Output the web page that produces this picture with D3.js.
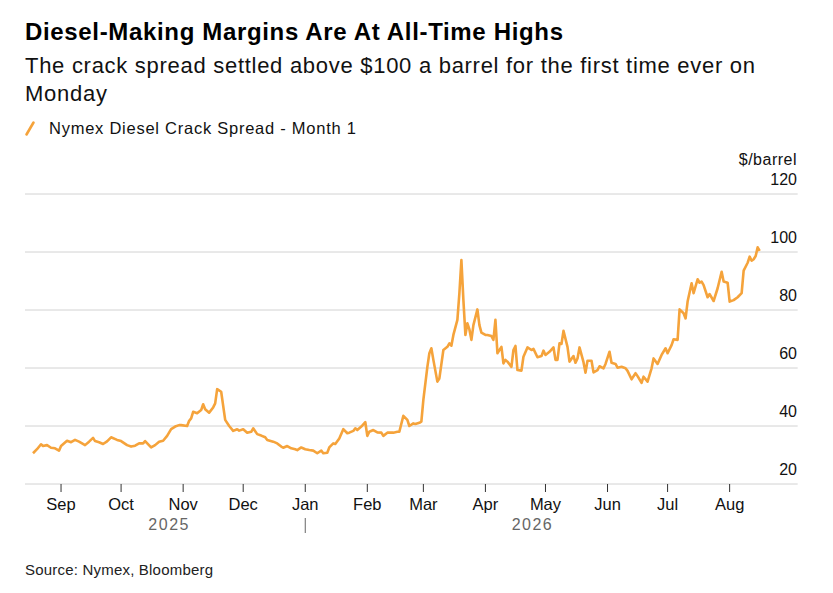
<!DOCTYPE html>
<html>
<head>
<meta charset="utf-8">
<script src="https://cdn.jsdelivr.net/npm/d3@7"></script>
<style>
  body { margin: 0; background: #fff; }
  svg { display: block; font-family: "Liberation Sans", Arial, sans-serif; }
</style>
</head>
<body>
<div id="chart"></div>
<script>
// Nymex Diesel Crack Spread - Month 1, $/barrel
const dates = [
  '2025-08-18','2025-08-20','2025-08-22','2025-08-23','2025-08-25','2025-08-27','2025-08-29','2025-08-31',
  '2025-09-01','2025-09-04','2025-09-06','2025-09-08','2025-09-10','2025-09-13','2025-09-15','2025-09-17',
  '2025-09-18','2025-09-20','2025-09-22','2025-09-24','2025-09-26','2025-09-29','2025-10-01','2025-10-04',
  '2025-10-06','2025-10-08','2025-10-10','2025-10-12','2025-10-13','2025-10-16','2025-10-18','2025-10-20',
  '2025-10-22','2025-10-24','2025-10-26','2025-10-28','2025-10-30','2025-10-31','2025-11-03','2025-11-04',
  '2025-11-05','2025-11-06','2025-11-08','2025-11-10','2025-11-11','2025-11-12','2025-11-14','2025-11-16',
  '2025-11-17','2025-11-18','2025-11-20','2025-11-22','2025-11-24','2025-11-26','2025-11-28','2025-11-29',
  '2025-12-01','2025-12-03','2025-12-05','2025-12-06','2025-12-08','2025-12-10','2025-12-12','2025-12-13',
  '2025-12-16','2025-12-18','2025-12-20','2025-12-21','2025-12-23','2025-12-25','2025-12-27','2025-12-28',
  '2025-12-30','2026-01-01','2026-01-03','2026-01-05','2026-01-07','2026-01-09','2026-01-10','2026-01-12',
  '2026-01-13','2026-01-15','2026-01-16','2026-01-18','2026-01-20','2026-01-22','2026-01-23','2026-01-25',
  '2026-01-26','2026-01-27','2026-01-29','2026-01-31','2026-02-01','2026-02-02','2026-02-04','2026-02-06',
  '2026-02-08','2026-02-09','2026-02-11','2026-02-14','2026-02-16','2026-02-17','2026-02-19','2026-02-21',
  '2026-02-22','2026-02-24','2026-02-25','2026-02-27','2026-02-28','2026-03-01','2026-03-03','2026-03-04',
  '2026-03-05','2026-03-06','2026-03-08','2026-03-09','2026-03-11','2026-03-13','2026-03-14','2026-03-15',
  '2026-03-16','2026-03-18','2026-03-19','2026-03-20','2026-03-21','2026-03-22','2026-03-23','2026-03-24',
  '2026-03-25','2026-03-26','2026-03-28','2026-03-29','2026-03-30','2026-04-01','2026-04-02','2026-04-04',
  '2026-04-05','2026-04-06','2026-04-07','2026-04-09','2026-04-10','2026-04-11','2026-04-12','2026-04-14',
  '2026-04-15','2026-04-16','2026-04-17','2026-04-19','2026-04-20','2026-04-22','2026-04-24','2026-04-25',
  '2026-04-27','2026-04-29','2026-04-30','2026-05-01','2026-05-03','2026-05-05','2026-05-06','2026-05-07',
  '2026-05-08','2026-05-09','2026-05-10','2026-05-12','2026-05-13','2026-05-15','2026-05-16','2026-05-17',
  '2026-05-18','2026-05-20','2026-05-21','2026-05-22','2026-05-24','2026-05-25','2026-05-27','2026-05-28',
  '2026-05-30','2026-05-31','2026-06-02','2026-06-03','2026-06-05','2026-06-06','2026-06-08','2026-06-10',
  '2026-06-11','2026-06-13','2026-06-15','2026-06-16','2026-06-18','2026-06-19','2026-06-21','2026-06-23',
  '2026-06-24','2026-06-26','2026-06-28','2026-06-30','2026-07-01','2026-07-03','2026-07-04','2026-07-06',
  '2026-07-07','2026-07-09','2026-07-10','2026-07-11','2026-07-13','2026-07-14','2026-07-16','2026-07-17',
  '2026-07-18','2026-07-19','2026-07-21','2026-07-22','2026-07-24','2026-07-26','2026-07-28','2026-07-29',
  '2026-07-31','2026-08-01','2026-08-03','2026-08-05','2026-08-07','2026-08-08','2026-08-10','2026-08-11',
  '2026-08-12','2026-08-13','2026-08-14','2026-08-15','2026-08-16'
];
const values = [
  30.6, 32.0, 33.7, 33.1, 33.4, 32.5, 32.3, 31.5,
  33.1, 34.9, 34.4, 35.2, 34.6, 33.4, 34.6, 35.9,
  34.8, 34.4, 33.8, 34.7, 36.1, 35.2, 34.8, 33.4,
  32.9, 33.2, 34.0, 34.0, 34.8, 32.6, 33.4, 34.6,
  34.9, 36.6, 38.9, 39.8, 40.3, 40.3, 40.0, 41.8,
  42.6, 44.9, 44.4, 45.5, 47.5, 45.8, 44.6, 46.4,
  47.8, 52.7, 51.8, 42.1, 40.0, 38.3, 38.9, 38.4,
  38.9, 37.7, 38.0, 39.2, 37.2, 36.7, 36.1, 35.2,
  34.6, 34.0, 32.9, 32.5, 33.1, 32.3, 32.0, 31.7,
  32.6, 32.0, 31.7, 31.5, 30.6, 31.5, 30.6, 30.8,
  32.6, 34.0, 33.8, 35.7, 38.9, 37.5, 37.7, 38.3,
  39.2, 38.6, 39.8, 41.3, 36.6, 38.0, 38.6, 37.8,
  37.7, 36.6, 37.7, 37.7, 38.0, 38.0, 43.5, 42.1,
  40.0, 40.9, 40.7, 41.1, 41.5, 49.0, 60.4, 65.1,
  66.8, 62.8, 55.3, 56.4, 66.2, 67.3, 68.5, 67.7,
  71.4, 76.6, 85.8, 97.2, 83.4, 71.4, 75.4, 73.3,
  69.7, 74.8, 80.2, 74.8, 72.2, 71.4, 71.4, 71.0,
  69.7, 76.6, 65.1, 67.3, 61.6, 62.8, 62.2, 60.4,
  66.2, 67.6, 59.3, 59.1, 63.9, 67.1, 66.2, 66.6,
  63.7, 64.1, 66.0, 64.5, 65.6, 67.1, 62.8, 62.8,
  68.5, 68.3, 72.8, 67.3, 62.2, 64.1, 61.8, 63.3,
  67.1, 62.0, 58.4, 62.5, 62.5, 58.5, 59.3, 60.6,
  59.9, 61.4, 65.6, 61.8, 61.4, 60.1, 60.4, 59.9,
  59.0, 56.1, 58.2, 57.2, 54.9, 57.0, 55.3, 59.9,
  63.3, 61.4, 64.5, 66.8, 65.1, 67.9, 69.9, 69.7,
  80.2, 78.9, 77.1, 82.9, 89.2, 85.8, 90.6, 89.4,
  89.8, 88.6, 84.4, 85.5, 83.1, 87.5, 93.2, 89.8,
  89.4, 82.9, 83.4, 84.4, 85.8, 93.6, 96.3, 98.4,
  97.0, 97.5, 98.6, 101.6, 100.4
];
const yTicks = [20, 40, 60, 80, 100, 120];
const years = ['2025', '2026'];

const W = 833, H = 593;
const orange = '#f5a33b';
const parse = d3.timeParse('%Y-%m-%d');
const data = dates.map((d, i) => ({ date: parse(d), value: values[i] }));

const x = d3.scaleTime()
  .domain([parse('2025-08-14'), parse('2026-09-04')])
  .range([25, 797.7]);
const y = d3.scaleLinear().domain([20, 120]).range([484, 194]);

const svg = d3.select('#chart').append('svg')
  .attr('width', W).attr('height', H);
svg.append('rect').attr('width', W).attr('height', H).attr('fill', '#fff');

// titles (reference face is wider than Liberation, so stretch to its width)
svg.append('text').attr('x', 25).attr('y', 40)
  .attr('font-size', '24px').attr('font-weight', 'bold').attr('fill', '#000')
  .attr('textLength', 538).attr('lengthAdjust', 'spacing')
  .text('Diesel-Making Margins Are At All-Time Highs');
svg.append('text').attr('x', 25).attr('y', 72.5)
  .attr('font-size', '22px').attr('fill', '#111')
  .attr('textLength', 730).attr('lengthAdjust', 'spacing')
  .text('The crack spread settled above $100 a barrel for the first time ever on');
svg.append('text').attr('x', 25).attr('y', 101)
  .attr('font-size', '22px').attr('fill', '#111')
  .attr('textLength', 82).attr('lengthAdjust', 'spacing')
  .text('Monday');

// legend
svg.append('line').attr('x1', 26.5).attr('y1', 134.5).attr('x2', 33.5).attr('y2', 122.5)
  .attr('stroke', orange).attr('stroke-width', 2.6).attr('stroke-linecap', 'round');
svg.append('text').attr('x', 49).attr('y', 133.5)
  .attr('font-size', '16.5px').attr('fill', '#111')
  .attr('textLength', 307).attr('lengthAdjust', 'spacing')
  .text('Nymex Diesel Crack Spread - Month 1');

// gridlines + y labels
const grid = svg.append('g');
grid.selectAll('line').data(yTicks).join('line')
  .attr('x1', 25).attr('x2', 797.7)
  .attr('y1', d => y(d)).attr('y2', d => y(d))
  .attr('stroke', '#d2d2d2').attr('stroke-width', 1);
grid.selectAll('text').data(yTicks).join('text')
  .attr('x', 797).attr('y', d => y(d) - 9)
  .attr('text-anchor', 'end').attr('font-size', '16px').attr('fill', '#111')
  .text(d => d);
svg.append('text').attr('x', 797).attr('y', y(120) - 29)
  .attr('text-anchor', 'end').attr('font-size', '16px').attr('fill', '#111')
  .attr('letter-spacing', '0.5px')
  .text('$/barrel');

// month ticks
const months = d3.timeMonth.range(parse('2025-09-01'), parse('2026-09-01'));
const xAxis = svg.append('g');
xAxis.selectAll('line').data(months).join('line')
  .attr('x1', d => x(d)).attr('x2', d => x(d))
  .attr('y1', 484).attr('y2', 492)
  .attr('stroke', '#333').attr('stroke-width', 1);
xAxis.selectAll('text').data(months).join('text')
  .attr('x', d => x(d)).attr('y', 510)
  .attr('text-anchor', 'middle').attr('font-size', '16.5px').attr('fill', '#111')
  .text(d3.timeFormat('%b'));

// year labels, centred on each year's part of the data
const yearBreak = parse('2026-01-01');
const first = data[0].date, last = data[data.length - 1].date;
const yearSpans = [[first, yearBreak], [yearBreak, last]];
svg.selectAll('.year').data(years).join('text')
  .attr('class', 'year')
  .attr('x', (d, i) => (x(yearSpans[i][0]) + x(yearSpans[i][1])) / 2)
  .attr('y', 530)
  .attr('text-anchor', 'middle').attr('font-size', '16px')
  .attr('letter-spacing', '1.5px').attr('fill', '#666')
  .text(d => d);
svg.append('line')
  .attr('x1', x(yearBreak)).attr('x2', x(yearBreak))
  .attr('y1', 518).attr('y2', 533)
  .attr('stroke', '#666').attr('stroke-width', 1);

// series
const line = d3.line().x(d => x(d.date)).y(d => y(d.value));
svg.append('path').datum(data)
  .attr('d', line)
  .attr('fill', 'none').attr('stroke', orange)
  .attr('stroke-width', 2.6).attr('stroke-linejoin', 'round');

// source
svg.append('text').attr('x', 25).attr('y', 575)
  .attr('font-size', '15px').attr('fill', '#222')
  .attr('letter-spacing', '0.2px')
  .text('Source: Nymex, Bloomberg');
</script>
</body>
</html>
